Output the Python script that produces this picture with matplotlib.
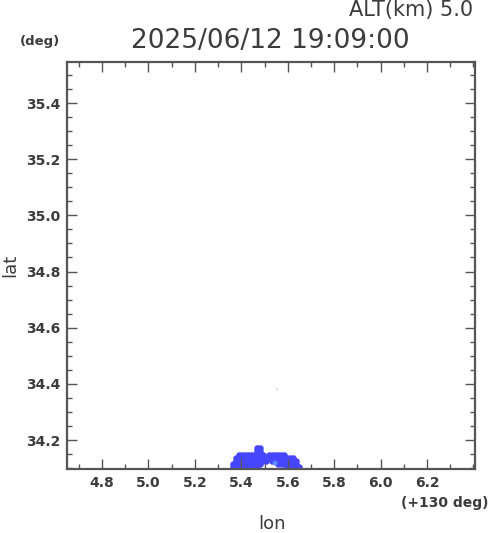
import matplotlib
matplotlib.use("Agg")
import matplotlib.pyplot as plt
from matplotlib.ticker import MultipleLocator, FormatStrFormatter

# Dados (lon relativo a +130 graus, lat em graus)
titulo = "2025/06/12 19:09:00"
altitude = "ALT(km) 5.0"

lon_pts = [5.468, 5.481,
           5.468, 5.481,
           5.391, 5.403, 5.416, 5.429, 5.442, 5.455, 5.468, 5.481, 5.494,
           5.520, 5.533, 5.546, 5.559, 5.572, 5.584,
           5.378, 5.391, 5.403, 5.416, 5.429, 5.442, 5.455, 5.468, 5.481, 5.494,
           5.507, 5.520, 5.533, 5.546, 5.559, 5.572, 5.584, 5.597, 5.610, 5.623,
           5.378, 5.391, 5.403, 5.416, 5.429, 5.442, 5.455, 5.468, 5.481, 5.494,
           5.507, 5.533, 5.546, 5.559, 5.572, 5.584, 5.597, 5.610, 5.623, 5.636,
           5.365, 5.378, 5.391, 5.403, 5.416, 5.429, 5.442, 5.455, 5.468, 5.481,
           5.559, 5.572, 5.584, 5.597, 5.610, 5.623, 5.636,
           5.365, 5.391, 5.416, 5.442, 5.468, 5.597, 5.623, 5.649]
lat_pts = [34.172, 34.172,
           34.161, 34.161,
           34.147, 34.147, 34.147, 34.147, 34.147, 34.147, 34.147, 34.147, 34.147,
           34.147, 34.147, 34.147, 34.147, 34.147, 34.147,
           34.136, 34.136, 34.136, 34.136, 34.136, 34.136, 34.136, 34.136, 34.136, 34.136,
           34.136, 34.136, 34.136, 34.136, 34.136, 34.136, 34.136, 34.136, 34.136, 34.136,
           34.125, 34.125, 34.125, 34.125, 34.125, 34.125, 34.125, 34.125, 34.125, 34.125,
           34.125, 34.125, 34.125, 34.125, 34.125, 34.125, 34.125, 34.125, 34.125, 34.125,
           34.115, 34.115, 34.115, 34.115, 34.115, 34.115, 34.115, 34.115, 34.115, 34.115,
           34.115, 34.115, 34.115, 34.115, 34.115, 34.115, 34.115,
           34.104, 34.104, 34.104, 34.104, 34.104, 34.104, 34.104, 34.104]

# pontos mais fracos
lon_fracos = [5.546, 5.554]
lat_fracos = [34.118, 34.381]

x_ticks = [4.8, 5.0, 5.2, 5.4, 5.6, 5.8, 6.0, 6.2]
y_ticks = [34.2, 34.4, 34.6, 34.8, 35.0, 35.2, 35.4]

cinza = "#555555"
texto = "#3c3c3c"

fig = plt.figure(figsize=(4.9, 5.33), dpi=100)
ax = fig.add_axes([67 / 490, 1 - 469 / 533, 408 / 490, 407 / 533])

ax.scatter(lon_pts, lat_pts, s=22, color="#4646ff", marker="o", linewidths=0)
ax.scatter(lon_fracos, lat_fracos, s=[12, 2], color=["#5a8cff", "#c8d4ff"],
           marker="o", linewidths=0)

ax.set_xlim(4.649, 6.407)
ax.set_ylim(34.097, 35.546)
ax.set_xticks(x_ticks)
ax.set_yticks(y_ticks)
ax.xaxis.set_minor_locator(MultipleLocator(0.1))
ax.yaxis.set_minor_locator(MultipleLocator(0.05))
ax.xaxis.set_major_formatter(FormatStrFormatter("%.1f"))
ax.yaxis.set_major_formatter(FormatStrFormatter("%.1f"))

ax.tick_params(which="both", direction="in", top=True, right=True, color=cinza, width=1)
ax.tick_params(which="major", length=7, labelsize=10, labelcolor=texto, pad=5)
ax.tick_params(which="minor", length=3.5)
for lbl in ax.get_xticklabels() + ax.get_yticklabels():
    lbl.set_fontweight("bold")

for sp in ax.spines.values():
    sp.set_color(cinza)
    sp.set_linewidth(1.6)

ax.set_xlabel("lon", fontsize=13, color=texto)
ax.set_ylabel("lat", fontsize=13, color=texto)
ax.xaxis.set_label_coords(0.5 + (272 - 271) / 408, -0.135)
ax.yaxis.set_label_coords(-0.14, 0.5)
ax.xaxis.label.set_va("center")
ax.yaxis.label.set_va("center")

fig.text(270 / 490, 1 - 41 / 533, titulo, fontsize=19, color=texto, ha="center", va="center")
fig.text(473 / 490, 1 - 10 / 533, altitude, fontsize=15, color=texto, ha="right", va="center")
fig.text(40 / 490, 1 - 41 / 533, "(deg)", fontsize=9.5, fontweight="bold", color=texto,
         ha="center", va="center")
fig.text(488 / 490, 1 - 503 / 533, "(+130 deg)", fontsize=10, fontweight="bold", color=texto,
         ha="right", va="center")

fig.savefig("out.png", dpi=100)
